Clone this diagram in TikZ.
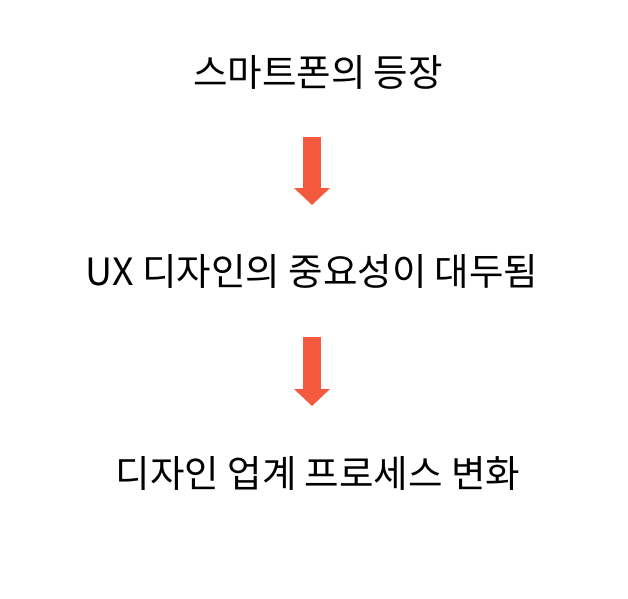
\documentclass[tikz,border=0pt]{standalone}
\usepackage{fontspec}
\setmainfont{Noto Sans CJK KR}
\usetikzlibrary{arrows.meta}
\definecolor{arrowred}{RGB}{244,90,62}
\tikzset{
  label text/.style={font=\fontsize{37.5}{44}\selectfont, text=black, inner sep=0pt, anchor=base},
  block arrow/.style={draw=arrowred, line width=18pt, -{Triangle[width=35pt,length=17pt]}}
}
\begin{document}
\begin{tikzpicture}[x=1pt,y=-1pt]
\useasboundingbox[fill=white] (0,0) rectangle (628,598);
\node[label text] (t1) at (318,86) {스마트폰의 등장};
\node[label text] (t2) at (312,285) {UX 디자인의 중요성이 대두됨};
\node[label text] (t3) at (318,487) {디자인 업계 프로세스 변화};
\coordinate (a1s) at (312,137);
\coordinate (a1e) at (312,205);
\coordinate (a2s) at (312,337);
\coordinate (a2e) at (312,406);
\draw[block arrow] (a1s) -- (a1e);
\draw[block arrow] (a2s) -- (a2e);
\end{tikzpicture}
\end{document}
